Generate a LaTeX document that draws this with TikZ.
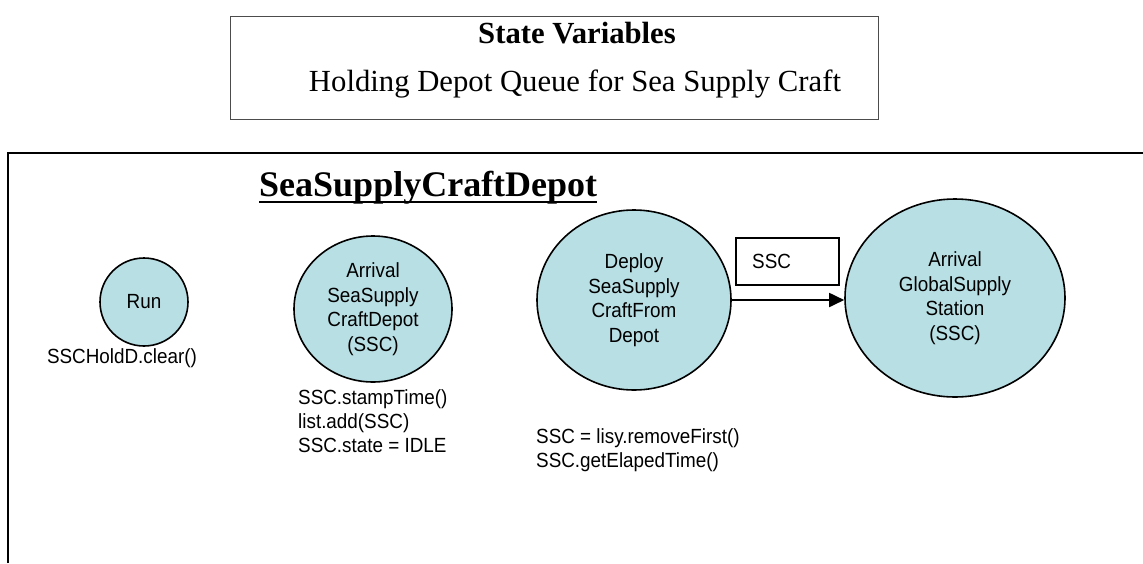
\documentclass[tikz,border=0pt]{standalone}
\usepackage{fontspec}
\setmainfont{Liberation Serif}
\newfontfamily\arialfont[FakeStretch=0.92]{Liberation Sans}
\usetikzlibrary{arrows.meta,shapes.geometric}
\definecolor{evfill}{RGB}{184,223,228}
\begin{document}
\begin{tikzpicture}[x=1pt,y=-1pt,
  evnode/.style={ellipse,draw=black,line width=1.6pt,fill=evfill,inner sep=0pt,align=center,
    font=\arialfont\fontsize{20.5}{24.5}\selectfont},
  codetxt/.style={anchor=west,align=left,inner sep=0pt,font=\arialfont\fontsize{20.5}{24}\selectfont},
  flow/.style={line width=1.8pt,-{Triangle[length=15pt,width=14pt]}}]
\useasboundingbox (0,0) rectangle (1143,563);
\fill[white] (0,0) rectangle (1143,563);
% state variables box
\node[draw=black!70,line width=1.3pt,minimum width=648pt,minimum height=103pt,anchor=north west,inner sep=0pt] (svbox) at (230,16) {};
\node[anchor=base,inner sep=0pt,font=\fontsize{30.7}{34}\selectfont\bfseries] (svtitle) at (577,43) {State Variables};
\node[anchor=base,inner sep=0pt,font=\fontsize{30.7}{34}\selectfont] (svtext) at (575,91) {Holding Depot Queue for Sea Supply Craft};
% outer frame
\draw[line width=2.5pt] (8,563) -- (8,153) -- (1143,153);
% title
\node[anchor=base west,inner sep=0pt,font=\fontsize{36}{40}\selectfont\bfseries] (title) at (259,196) {SeaSupplyCraftDepot};
\draw[line width=2.2pt] ([yshift=-6pt]title.base west) -- ([yshift=-6pt]title.base east);
% events
\node[evnode,minimum width=88pt,minimum height=88pt] (run) at (144,302) {Run};
\node[evnode,minimum width=158pt,minimum height=146pt] (arrdep) at (373,309) {Arrival\\SeaSupply\\CraftDepot\\(SSC)};
\node[evnode,minimum width=194pt,minimum height=180pt] (deploy) at (634,300) {Deploy\\SeaSupply\\CraftFrom\\Depot};
\node[evnode,minimum width=220pt,minimum height=198pt] (arrgss) at (955,298) {Arrival\\GlobalSupply\\Station\\(SSC)};
% code labels
\node[codetxt,anchor=center] (runcode) at (122,358) {SSCHoldD.clear()};
\node[codetxt,anchor=north west] (arrcode) at (298,389) {SSC.stampTime()\\list.add(SSC)\\SSC.state = IDLE};
\node[codetxt,anchor=north west] (depcode) at (536,428) {SSC = lisy.removeFirst()\\SSC.getElapedTime()};
% edge
\node[draw=black,line width=1.5pt,minimum width=103pt,minimum height=47pt,anchor=north west,inner sep=0pt] (edgebox) at (735,237) {};
\node[codetxt,anchor=west] (edgelbl) at (752,261) {SSC};
\draw[flow] (deploy.east) -- (deploy.east -| arrgss.west);
\end{tikzpicture}
\end{document}
